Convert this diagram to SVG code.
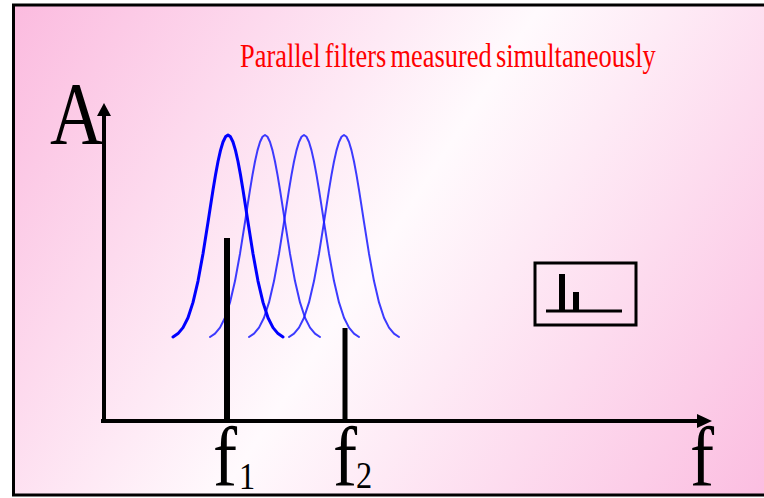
<svg xmlns="http://www.w3.org/2000/svg" width="764" height="498" viewBox="0 0 764 498">
<style>
.serif{font-family:"Liberation Serif","Times New Roman",serif;fill:#000}
.title{font-family:"Liberation Serif","Times New Roman",serif;fill:#ff0000;font-size:33px}
.ax{stroke:#000;stroke-width:4;fill:none}
.bar{stroke:#000;fill:none}
.g{fill:none;stroke:#1a1aff;stroke-width:2;stroke-linejoin:round;stroke-linecap:round}
</style>
<defs>
<linearGradient id="bg" x1="0" y1="0" x2="764" y2="498" gradientUnits="userSpaceOnUse">
<stop offset="0" stop-color="#fbb9de"/>
<stop offset="0.5" stop-color="#fffafd"/>
<stop offset="1" stop-color="#fbbde0"/>
</linearGradient>
<polyline id="gauss" points="-55,337 -50,333.6 -45,327.6 -40,317.7 -35,302.4 -30,281.1 -25,253.7 -20,222.2 -17.5,205.9 -15,189.9 -12.5,174.9 -10,161.5 -7.5,150.4 -5,142 -2.5,136.8 0,135 2.5,136.8 5,142 7.5,150.4 10,161.5 12.5,174.9 15,189.9 17.5,205.9 20,222.2 25,253.7 30,281.1 35,302.4 40,317.7 45,327.6 50,333.6 55,337"/>
</defs>
<rect x="0" y="0" width="764" height="498" fill="#fff"/>
<rect x="13.5" y="5" width="760" height="490" fill="url(#bg)" stroke="#000" stroke-width="3"/>
<text id="title" class="title" transform="translate(240,67) scale(0.8,1)" word-spacing="-3">Parallel filters measured simultaneously</text>
<g id="filters">
<use href="#gauss" x="265" class="g" opacity="0.85"/>
<use href="#gauss" x="304" class="g" opacity="0.85"/>
<use href="#gauss" x="344" class="g" opacity="0.85"/>
<use href="#gauss" x="228" class="g" style="stroke:#0000ff;stroke-width:3"/>
</g>
<g id="axes">
<line class="ax" x1="104" y1="421" x2="104" y2="114"/>
<polygon points="104,103 97,116 111,116" fill="#000"/>
<line class="ax" x1="101" y1="421" x2="699" y2="421"/>
<polygon points="712,421 697,414 697,428" fill="#000"/>
</g>
<g id="bars">
<line class="bar" x1="227" y1="238" x2="227" y2="421" stroke-width="6"/>
<line class="bar" x1="345" y1="328" x2="345" y2="421" stroke-width="5"/>
</g>
<g id="icon">
<rect x="535" y="263" width="101" height="62" fill="none" stroke="#000" stroke-width="3"/>
<line x1="546" y1="311" x2="622" y2="311" stroke="#000" stroke-width="3"/>
<rect x="559" y="274" width="6" height="37" fill="#000"/>
<rect x="573" y="292" width="6" height="19" fill="#000"/>
</g>
<g id="labels">
<text class="serif" font-size="88" transform="translate(50,143) scale(0.84,1)">A</text>
<text class="serif" font-size="85" transform="translate(690,485) scale(0.85,1)">f</text>
<text class="serif" font-size="85" transform="translate(213,485) scale(0.85,1)">f</text>
<text class="serif" font-size="38" transform="translate(239,489) scale(0.85,1)">1</text>
<text class="serif" font-size="85" transform="translate(333,485) scale(0.85,1)">f</text>
<text class="serif" font-size="38" transform="translate(356,488) scale(0.85,1)">2</text>
</g>
</svg>
